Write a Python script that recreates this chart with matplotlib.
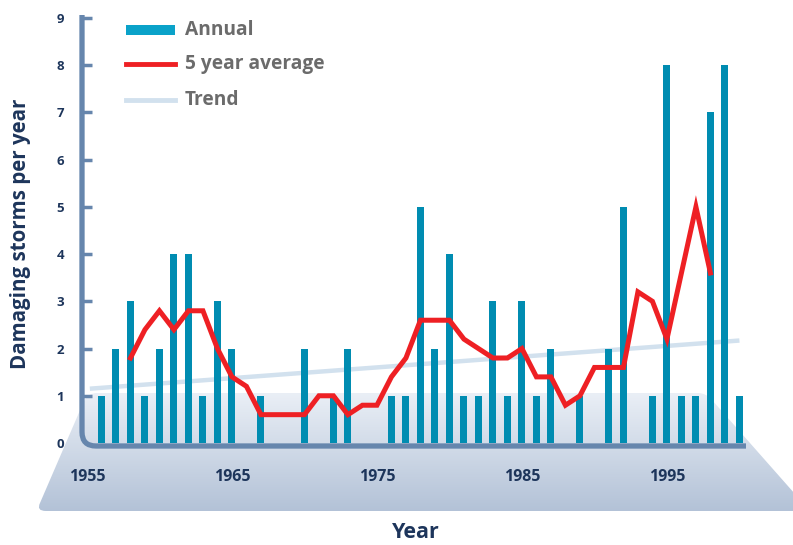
import numpy as np
import matplotlib
matplotlib.use("Agg")
import matplotlib.pyplot as plt
from matplotlib.path import Path
from matplotlib.patches import PathPatch, Rectangle
from matplotlib.lines import Line2D

# ---- data ----
years = [1956, 1957, 1958, 1959, 1960, 1961, 1962, 1963, 1964, 1965,
         1966, 1967, 1968, 1969, 1970, 1971, 1972, 1973, 1974, 1975,
         1976, 1977, 1978, 1979, 1980, 1981, 1982, 1983, 1984, 1985,
         1986, 1987, 1988, 1989, 1990, 1991, 1992, 1993, 1994, 1995,
         1996, 1997, 1998, 1999, 2000]
annual = [1, 2, 3, 1, 2, 4, 4, 1, 3, 2,
          0, 1, 0, 0, 2, 0, 1, 2, 0, 0,
          1, 1, 5, 2, 4, 1, 1, 3, 1, 3,
          1, 2, 0, 1, 0, 2, 5, 0, 1, 8,
          1, 1, 7, 8, 1]
avg_years = [1958, 1959, 1960, 1961, 1962, 1963, 1964, 1965, 1966, 1967,
             1968, 1969, 1970, 1971, 1972, 1973, 1974, 1975, 1976, 1977,
             1978, 1979, 1980, 1981, 1982, 1983, 1984, 1985, 1986, 1987,
             1988, 1989, 1990, 1991, 1992, 1993, 1994, 1995, 1996, 1997, 1998]
avg5 = [1.8, 2.4, 2.8, 2.4, 2.8, 2.8, 2.0, 1.4, 1.2, 0.6,
        0.6, 0.6, 0.6, 1.0, 1.0, 0.6, 0.8, 0.8, 1.4, 1.8,
        2.6, 2.6, 2.6, 2.2, 2.0, 1.8, 1.8, 2.0, 1.4, 1.4,
        0.8, 1.0, 1.6, 1.6, 1.6, 3.2, 3.0, 2.2, 3.6, 5.0, 3.6]
trend_years = [1955.2, 2000]
trend_values = [1.15, 2.17]
year_ticks = [1955, 1965, 1975, 1985, 1995]
y_ticks = [0, 1, 2, 3, 4, 5, 6, 7, 8, 9]
legend_labels = ["Annual", "5 year average", "Trend"]

# ---- styles ----
BAR = "#008cb1"
BAR_LEG = "#0aa2c9"
RED = "#ee2024"
TREND = "#d2e1ee"
AXIS = "#6686ad"
NAVY = "#1d355b"
GREY = "#6b6b6b"
FONT = ["Open Sans", "DejaVu Sans"]

W, H = 793, 545
fig = plt.figure(figsize=(W / 100, H / 100), dpi=100)

# background (pixel coordinates)
bg = fig.add_axes([0, 0, 1, 1], zorder=0)
bg.set_xlim(0, W)
bg.set_ylim(H, 0)
bg.axis("off")

# floor platform with gradient
verts = [(97, 393), (698, 393), (706, 393), (712, 400), (810, 511),
         (46, 511), (36, 511), (40, 503), (84, 401), (88, 393), (97, 393)]
codes = [Path.MOVETO, Path.LINETO, Path.CURVE3, Path.CURVE3, Path.LINETO,
         Path.LINETO, Path.CURVE3, Path.CURVE3, Path.LINETO, Path.CURVE3, Path.CURVE3]
floor = PathPatch(Path(verts, codes), facecolor="none", edgecolor="none")
bg.add_patch(floor)
top = np.array([0xea, 0xef, 0xf6]) / 255
bot = np.array([0xb3, 0xc2, 0xd7]) / 255
t = np.linspace(0, 1, 200)[:, None, None]
grad = top * (1 - t) + bot * t
im = bg.imshow(grad, extent=(0, W, 511, 393), aspect="auto", origin="upper",
               interpolation="bilinear")
im.set_clip_path(floor)

# axis lines with rounded corner
av = [(82, 15), (82, 432), (82, 446), (96, 446), (746, 446)]
ac = [Path.MOVETO, Path.LINETO, Path.CURVE3, Path.CURVE3, Path.LINETO]
bg.add_patch(PathPatch(Path(av, ac), facecolor="none", edgecolor=AXIS,
                       lw=3.8, capstyle="butt", zorder=3))

# legend (manual)
bg.add_patch(Rectangle((126, 25), 49, 10, facecolor=BAR_LEG, edgecolor="none"))
bg.add_line(Line2D([126, 175], [64, 64], color=RED, lw=3.5))
bg.add_line(Line2D([126, 175], [100, 100], color=TREND, lw=3.5))
for ty, lab in zip([30, 64, 100], legend_labels):
    bg.text(185, ty, lab, fontsize=13.8, fontweight="bold", color=GREY,
            family=FONT, ha="left", va="center")

bg.text(21, 234, "Damaging storms per year", rotation=90, fontsize=14.8,
        fontweight="bold", color=NAVY, family=FONT, ha="center", va="center")
bg.text(416, 533, "Year", fontsize=15.5, fontweight="bold", color=NAVY,
        family=FONT, ha="center", va="center")

# main axes
x0 = 1954.66
ppy = 14.5
ax = fig.add_axes([82 / W, (H - 443) / H, (746 - 82) / W, (443 - 18) / H], zorder=1)
ax.set_facecolor("none")
ax.set_xlim(x0, x0 + (746 - 82) / ppy)
ax.set_ylim(0, 9)
for s in ax.spines.values():
    s.set_visible(False)

ax.plot(trend_years, trend_values, color=TREND, lw=3.2, zorder=1,
        solid_capstyle="butt")
ax.bar(years, annual, width=0.48, color=BAR, zorder=2)
ax.plot(avg_years, avg5, color=RED, lw=3.6, zorder=3, solid_joinstyle="miter")

ax.set_yticks(y_ticks)
ax.set_yticklabels([str(v) for v in y_ticks])
ax.tick_params(axis="y", direction="in", length=7, width=2.5, color=AXIS,
               pad=13, labelsize=9.5, labelcolor=NAVY)
ax.yaxis.get_major_ticks()[0].tick1line.set_visible(False)
ax.set_xticks(year_ticks)
ax.set_xticklabels([str(v) for v in year_ticks])
ax.tick_params(axis="x", length=0, pad=19, labelsize=11.5, labelcolor=NAVY)
for lab in ax.get_xticklabels() + ax.get_yticklabels():
    lab.set_fontweight("bold")
    lab.set_family(FONT)

fig.savefig("out.png", dpi=100)
